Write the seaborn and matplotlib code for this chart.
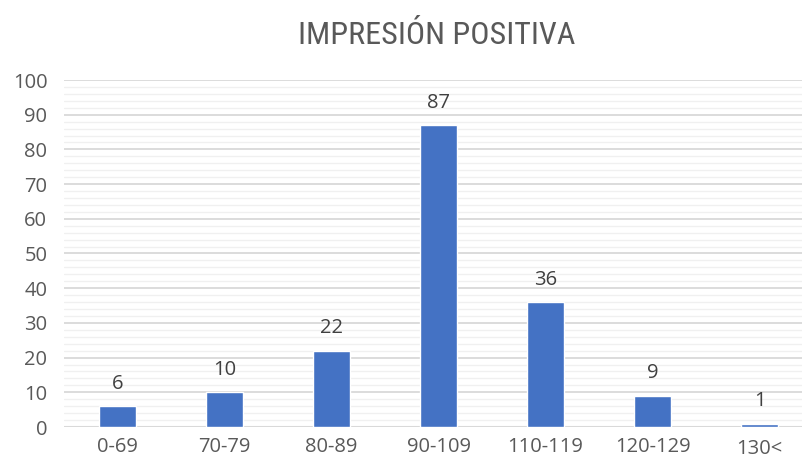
import matplotlib
matplotlib.use("Agg")
import matplotlib.pyplot as plt
import seaborn as sns
import pandas as pd
from matplotlib.ticker import MultipleLocator

categories = ["0-69", "70-79", "80-89", "90-109", "110-119", "120-129", "130<"]
values = [6, 10, 22, 87, 36, 9, 1]
title = "IMPRESIÓN POSITIVA"

df = pd.DataFrame({"cat": categories, "val": values})

sns.set_theme(style="white")
plt.rcParams['font.family'] = ['Open Sans', 'DejaVu Sans']

fig = plt.figure(figsize=(8.02, 4.61), dpi=100)
ax = fig.add_axes([64/802, 1 - 427/461, 749/802, 347/461])

sns.barplot(data=df, x="cat", y="val", color="#4472C4", width=0.34,
            saturation=1, ax=ax, zorder=3)

ax.set_ylim(0, 100)
ax.set_xlim(-0.5, 6.5)
ax.yaxis.set_major_locator(MultipleLocator(10))
ax.yaxis.set_minor_locator(MultipleLocator(2))
ax.grid(which="major", axis="y", color="#d9d9d9", linewidth=1.3, zorder=0)
ax.grid(which="minor", axis="y", color="#f0f0f0", linewidth=1.0, zorder=0)
ax.set_axisbelow(True)
for s in ax.spines.values():
    s.set_visible(False)
ax.axhline(0, color="#d9d9d9", linewidth=1.5, zorder=2)

ax.set_xlabel("")
ax.set_ylabel("")
ax.tick_params(axis="both", which="both", length=0, labelsize=14.5, labelcolor="#595959")
ax.tick_params(axis="x", pad=7)
ax.tick_params(axis="y", pad=12)
ticklabels = ax.get_xticklabels()
ticklabels[-1].set_y(-0.008)

for i, v in enumerate(values):
    ax.annotate(str(v), (i, v), xytext=(0, 9), textcoords="offset points",
                ha="center", va="bottom", fontsize=14.5, color="#404040")

fig.text(437/802, 1 - 35/461, title, ha="center", va="center",
         fontsize=23, color="#595959",
         family=["Roboto Condensed", "Liberation Sans Narrow", "Roboto", "DejaVu Sans"])

fig.savefig("out.png", dpi=100)
